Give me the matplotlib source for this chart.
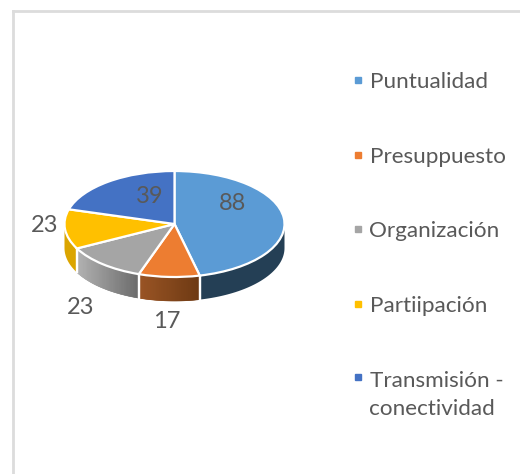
import matplotlib
matplotlib.use('Agg')
import matplotlib.pyplot as plt
import matplotlib.colors as mcolors
import numpy as np
from matplotlib.lines import Line2D
from matplotlib.patches import Polygon

categories = ['Puntualidad', 'Presuppuesto', 'Organización', 'Partiipación', 'Transmisión -\nconectividad']
values = [88, 17, 23, 23, 39]
colors = ['#5b9bd5', '#ed7d31', '#a5a5a5', '#ffc000', '#4472c4']

# side wall shades, left end and right end of each slice as seen on screen
wall_left = ['#243f55', '#9c5626', '#b4b4b4', '#dba500', '#2f4f88']
wall_right = ['#243f55', '#6d3913', '#6b6b6b', '#dba500', '#2f4f88']

W, H = 520, 474
CX, CY, A, B = 174.5, 224, 110, 53
DEPTH = 24 / B
TEXT = '#595959'

plt.rcParams['font.family'] = ['Lato', 'DejaVu Sans']


def px(x, y):
    return x / W, 1 - y / H


fig = plt.figure(figsize=(W / 100, H / 100), dpi=100, facecolor='white')

# unit circle in this axes lands on the flattened ellipse of the pie top
ax = fig.add_axes([(CX - A) / W, 1 - (CY + B) / H, 2 * A / W, 2 * B / H])
wedges, _ = ax.pie(values, colors=colors, startangle=90, counterclock=False, radius=1,
                   wedgeprops=dict(edgecolor='white', linewidth=1.6, zorder=3))
ax.set_aspect('auto')
ax.set_xlim(-1, 1)
ax.set_ylim(-1, 1)
ax.set_axis_off()
for w in wedges:
    w.set_clip_on(False)

# side walls: only the part of each slice in the lower half shows
for w, cl, cr in zip(wedges, wall_left, wall_right):
    lo, hi = max(w.theta1, -180), min(w.theta2, 0)
    if hi <= lo:
        continue
    steps = np.linspace(lo, hi, 60)
    c1, c2 = np.array(mcolors.to_rgb(cl)), np.array(mcolors.to_rgb(cr))
    xs, ys = np.cos(np.radians(steps)), np.sin(np.radians(steps))
    # solid base first so the gaps between strips do not show white
    base = np.r_[np.c_[xs, ys], np.c_[xs, ys - DEPTH][::-1]]
    ax.add_patch(Polygon(base, facecolor=(c1 + c2) / 2, edgecolor='none', zorder=1, clip_on=False))
    if cl != cr:
        for i in range(len(steps) - 1):
            f = ((xs[i] + xs[i + 1]) / 2 - xs[0]) / (xs[-1] - xs[0])
            c = c1 + (c2 - c1) * f
            ax.add_patch(Polygon([(xs[i], ys[i]), (xs[i + 1], ys[i + 1]),
                                  (xs[i + 1], ys[i + 1] - DEPTH), (xs[i], ys[i] - DEPTH)],
                                 facecolor=c, edgecolor=c, linewidth=0.4, zorder=1, clip_on=False))
    # white seams at the slice edges
    for t in (lo, hi):
        if t in (-180, 0):
            continue
        x0, y0 = np.cos(np.radians(t)), np.sin(np.radians(t))
        ax.plot([x0, x0], [y0, y0 - DEPTH], color='white', lw=1.6, zorder=2, clip_on=False)

# data labels
label_pos = [(232, 203), (167, 322), (81, 308), (45, 226), (150, 197)]
for v, (x, y) in zip(values, label_pos):
    fx, fy = px(x, y)
    fig.text(fx, fy, str(v), ha='center', va='center', fontsize=17, color=TEXT, zorder=5)

# legend
handles = [Line2D([], [], linestyle='none', marker='s', markersize=5, color=c) for c in colors]
leg = fig.legend(handles, categories, loc='upper left', bbox_to_anchor=px(351.5, 72), frameon=False,
                 fontsize=16.2, labelcolor=TEXT, labelspacing=2.43, handlelength=0.6, handletextpad=0.2,
                 borderpad=0, borderaxespad=0)
for t in leg.get_texts():
    t.set_linespacing(1.5)
# marker of the two line entry sits on its first line
last = leg.legend_handles[-1]
last.set_ydata(np.asarray(last.get_ydata()) + 12.5)

# outer frame, top and left only
fig.add_artist(Line2D([12.5 / W, 12.5 / W], [0, 1 - 10.5 / H], color='#dcdcdc', lw=2))
fig.add_artist(Line2D([12.5 / W, 1], [1 - 10.5 / H, 1 - 10.5 / H], color='#dcdcdc', lw=2))

fig.savefig('out.png', dpi=100)
